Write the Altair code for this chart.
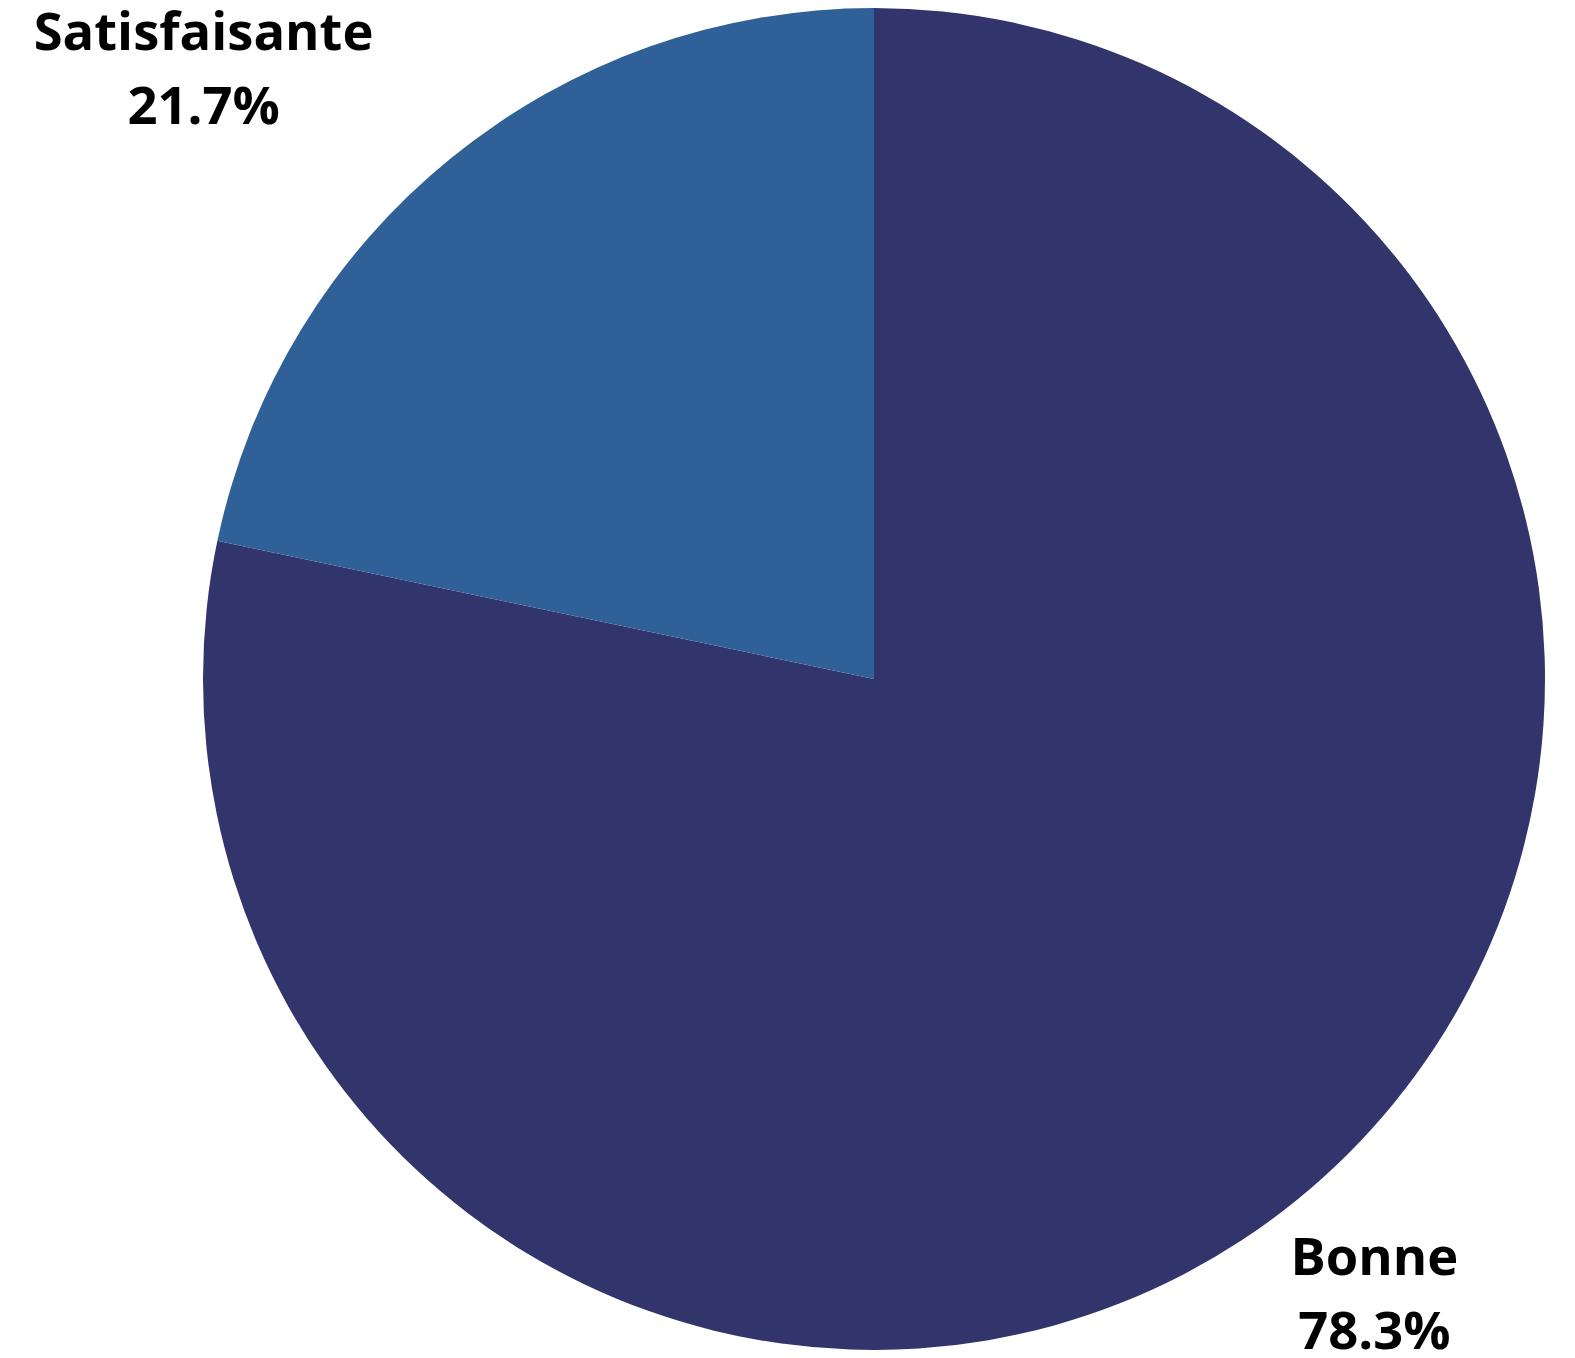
import altair as alt
import pandas as pd

categories = ["Bonne", "Satisfaisante"]
values = [78.3, 21.7]
colors = ["#31356c", "#2f6097"]
order = [0, 1]

df = pd.DataFrame({
    "cat": categories,
    "val": values,
    "ord": order,
})
df["label"] = [f"{c}\n{v}%" for c, v in zip(categories, values)]

cx, cy = 866, 671

theta_scale = alt.Scale(domain=[0, 100])

base = alt.Chart(df).transform_window(
    cum="sum(val)", sort=[alt.SortField("ord")]
).transform_calculate(
    start="datum.cum - datum.val", mid="datum.cum - datum.val / 2"
)

arc = base.mark_arc(outerRadius=671).encode(
    theta=alt.Theta("start:Q", scale=theta_scale),
    theta2="cum:Q",
    color=alt.Color("cat:N", scale=alt.Scale(domain=categories, range=colors), legend=None),
    x=alt.value(cx), y=alt.value(cy),
)

text_kw = dict(radius=791, fontSize=52.5, fontWeight="bold", font="Open Sans",
               lineBreak="\n", lineHeight=74, color="black", align="center", baseline="middle")

def label_layer(name, dx, dy):
    return base.transform_filter(alt.datum.cat == name).mark_text(dx=dx, dy=dy, **text_kw).encode(
        theta=alt.Theta("mid:Q", scale=theta_scale),
        text="label:N", x=alt.value(cx), y=alt.value(cy),
    )

t1 = label_layer("Bonne", 2, -34)
t2 = label_layer("Satisfaisante", -172, -31)

chart = alt.layer(arc, t1, t2).properties(
    width=1559, height=1342, padding=0, autosize="none"
).configure_view(stroke=None)

chart.save("out.html", embed_options={"renderer": "svg", "actions": False})
